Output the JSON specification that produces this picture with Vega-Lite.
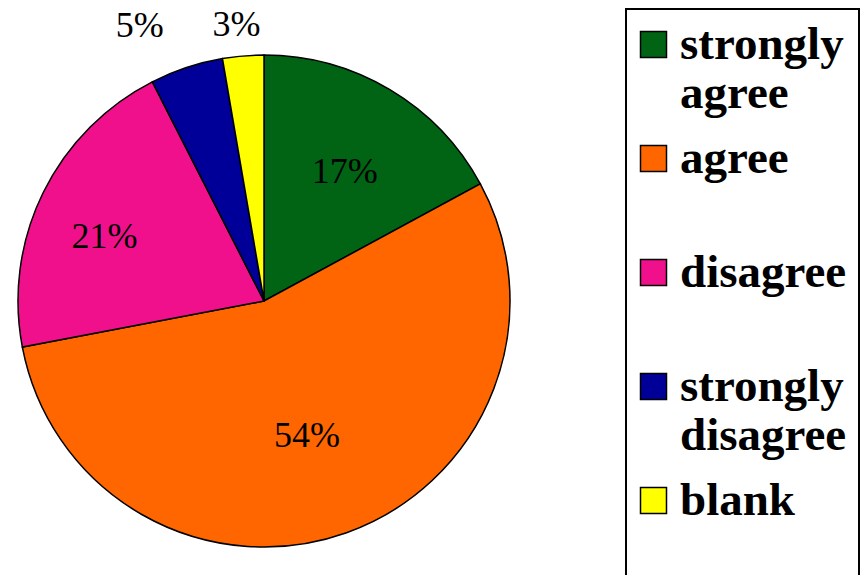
{
  "$schema": "https://vega.github.io/schema/vega-lite/v6.json",
  "width": 528,
  "height": 548,
  "autosize": "none",
  "padding": {"left": 0, "top": 27, "right": 336, "bottom": 0},
  "background": "white",
  "config": {"view": {"stroke": null}, "legend": {"strokeWidth": 2}},
  "data": {
    "values": [
      {"response": "strongly agree", "pct": 17.1, "order": 1, "label": "17%"},
      {"response": "agree", "pct": 54.9, "order": 2, "label": "54%"},
      {"response": "disagree", "pct": 20.5, "order": 3, "label": "21%"},
      {"response": "strongly disagree", "pct": 4.8, "order": 4, "label": "5%"},
      {"response": "blank", "pct": 2.7, "order": 5, "label": "3%"}
    ]
  },
  "encoding": {
    "theta": {"field": "pct", "type": "quantitative", "stack": true},
    "order": {"field": "order", "type": "quantitative"}
  },
  "layer": [
    {
      "mark": {"type": "arc", "outerRadius": 246, "stroke": "black", "strokeWidth": 1.5},
      "encoding": {
        "color": {
          "field": "response",
          "type": "nominal",
          "scale": {
            "domain": ["strongly agree", "agree", "disagree", "strongly disagree", "blank"],
            "range": ["#006414", "#FF6600", "#F0108C", "#000099", "#FFFF00"]
          },
          "legend": {
            "title": " ",
            "titleOrient": "bottom",
            "titleFontSize": 11,
            "titlePadding": 40,
            "orient": "none",
            "legendX": 626,
            "legendY": -18,
            "padding": 12,
            "strokeColor": "black",
            "fillColor": "white",
            "symbolType": "square",
            "symbolSize": 676,
            "symbolOffset": -8,
            "symbolStrokeColor": "black",
            "symbolStrokeWidth": 1.5,
            "symbolOpacity": 1,
            "labelFont": "Liberation Serif",
            "labelFontWeight": "bold",
            "labelFontSize": 47,
            "labelColor": "black",
            "labelLimit": 400,
            "labelOffset": 3,
            "gridAlign": "all",
            "rowPadding": 17,
            "labelExpr": "datum.label == 'strongly agree' ? ['strongly', 'agree'] : datum.label == 'strongly disagree' ? ['strongly', 'disagree'] : datum.label"
          }
        }
      }
    },
    {
      "mark": {"type": "text", "radius": 152, "dx": 3, "dy": 2, "font": "Liberation Serif", "fontSize": 36, "color": "black"},
      "encoding": {"text": {"condition": {"test": "datum.order == 1", "field": "label"}, "value": ""}}
    },
    {
      "mark": {"type": "text", "radius": 143, "dx": -5, "font": "Liberation Serif", "fontSize": 36, "color": "black"},
      "encoding": {"text": {"condition": {"test": "datum.order == 2", "field": "label"}, "value": ""}}
    },
    {
      "mark": {"type": "text", "radius": 171, "dx": -6, "dy": 11, "font": "Liberation Serif", "fontSize": 36, "color": "black"},
      "encoding": {"text": {"condition": {"test": "datum.order == 3", "field": "label"}, "value": ""}}
    },
    {
      "mark": {"type": "text", "radius": 290, "dx": -33, "font": "Liberation Serif", "fontSize": 36, "color": "black"},
      "encoding": {"text": {"condition": {"test": "datum.order == 4", "field": "label"}, "value": ""}}
    },
    {
      "mark": {"type": "text", "radius": 277, "dx": -4, "font": "Liberation Serif", "fontSize": 36, "color": "black"},
      "encoding": {"text": {"condition": {"test": "datum.order == 5", "field": "label"}, "value": ""}}
    }
  ]
}
